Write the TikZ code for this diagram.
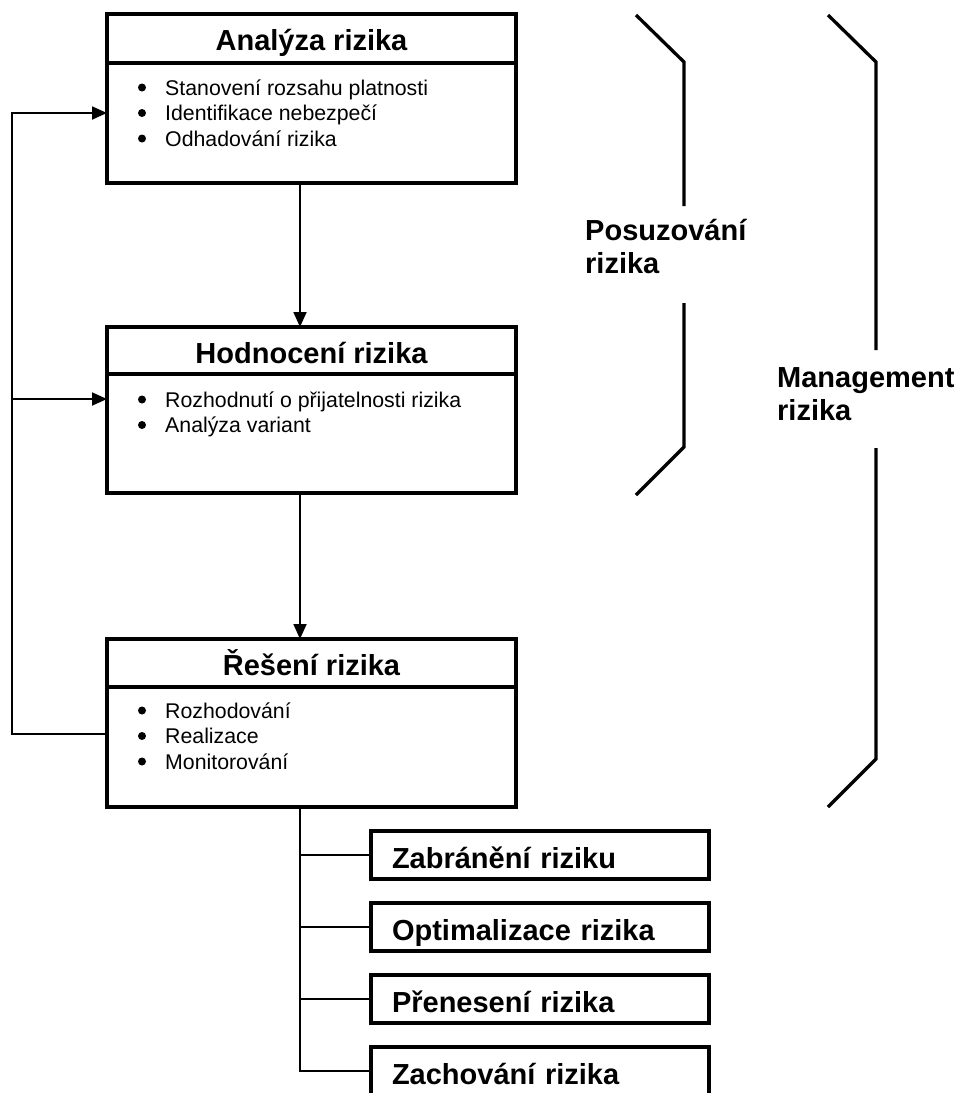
\documentclass[tikz,border=0pt]{standalone}
\usepackage{fontspec}
\setmainfont{Liberation Sans}
\usepackage{tikz}
\usetikzlibrary{calc, positioning, arrows, arrows.meta}

\begin{document}
\begin{tikzpicture}[x=1pt, y=-1pt, >={Triangle[length=15pt, width=13pt]}, line join=miter]
	\tikzstyle{velky}=[rectangle, draw, line width=3.3pt, minimum width=409pt, inner sep=0pt, outer sep=0pt]
	\tikzstyle{maly}=[rectangle, draw, line width=3.3pt, minimum width=338pt, minimum height=48pt, outer sep=0pt, text width=296pt, inner xsep=21pt, inner ysep=0pt, text height=26pt, text depth=0pt, align=left, font=\fontsize{29}{33}\selectfont\bfseries]
	\tikzstyle{nadpis}=[anchor=base, inner sep=0pt, font=\fontsize{29}{33}\selectfont\bfseries]
	\tikzstyle{polozka}=[anchor=base west, inner sep=0pt, font=\fontsize{21.3}{25.5}\selectfont]
	\tikzstyle{tecka}=[circle, fill, inner sep=0pt, minimum size=8pt]
	\tikzstyle{popis}=[anchor=west, inner sep=0pt, align=left, font=\fontsize{29}{33}\selectfont\bfseries]
	\tikzstyle{spoj}=[line width=1.8pt]
	\tikzstyle{zavorka}=[line width=3.3pt]

	\useasboundingbox (0,0) rectangle (957,1093);

	% hlavni bloky
	\node[velky, minimum height=169pt] (analyza) at (311.5,98.5) {};
	\node[velky, minimum height=166pt] (hodnoceni) at (311.5,410) {};
	\node[velky, minimum height=168pt] (reseni) at (311.5,723) {};

	\node[nadpis] (analyza-n) at ([yshift=-36pt]analyza.north) {Analýza rizika};
	\node[nadpis] (hodnoceni-n) at ([yshift=-36pt]hodnoceni.north) {Hodnocení rizika};
	\node[nadpis] (reseni-n) at ([yshift=-36pt]reseni.north) {Řešení rizika};

	\foreach \b/\h in {analyza/49, hodnoceni/47, reseni/48}
		\draw[zavorka] ([yshift=-\h pt]\b.north west) -- ([yshift=-\h pt]\b.north east);

	\foreach \t [count=\i] in {Stanovení rozsahu platnosti, Identifikace nebezpečí, Odhadování rizika} {
		\node[tecka] (analyza-b\i) at ([xshift=35pt, yshift={-73.5pt-25.5pt*(\i-1)}]analyza.north west) {};
		\node[polozka] (analyza-t\i) at ([xshift=58pt, yshift={-81pt-25.5pt*(\i-1)}]analyza.north west) {\t};
	}
	\foreach \t [count=\i] in {Rozhodnutí o přijatelnosti rizika, Analýza variant} {
		\node[tecka] (hodnoceni-b\i) at ([xshift=35pt, yshift={-72.5pt-25.5pt*(\i-1)}]hodnoceni.north west) {};
		\node[polozka] (hodnoceni-t\i) at ([xshift=58pt, yshift={-80pt-25.5pt*(\i-1)}]hodnoceni.north west) {\t};
	}
	\foreach \t [count=\i] in {Rozhodování, Realizace, Monitorování} {
		\node[tecka] (reseni-b\i) at ([xshift=35pt, yshift={-71.5pt-25.5pt*(\i-1)}]reseni.north west) {};
		\node[polozka] (reseni-t\i) at ([xshift=58pt, yshift={-79pt-25.5pt*(\i-1)}]reseni.north west) {\t};
	}

	% moznosti reseni
	\node[maly] (zabraneni) at (540,855) {Zabránění riziku};
	\node[maly, below=24pt of zabraneni] (optimalizace) {Optimalizace rizika};
	\node[maly, below=24pt of optimalizace] (preneseni) {Přenesení rizika};
	\node[maly, below=24pt of preneseni] (zachovani) {Zachování rizika};

	% spoje
	\draw[spoj, ->] ([xshift=-11.5pt]analyza.south) -- ([xshift=-11.5pt]hodnoceni.north);
	\draw[spoj, ->] ([xshift=-11.5pt]hodnoceni.south) -- ([xshift=-11.5pt]reseni.north);
	\coordinate (zpet) at ([xshift=-95pt, yshift=-95pt]reseni.north west);
	\coordinate (hodnoceni-vstup) at ([yshift=-72pt]hodnoceni.north west);
	\draw[spoj, ->] ([yshift=-95pt]reseni.north west) -- (zpet) |- ([yshift=-99pt]analyza.north west);
	\draw[spoj, ->] (zpet |- hodnoceni-vstup) -- (hodnoceni-vstup);
	\foreach \m in {zabraneni, optimalizace, preneseni, zachovani}
		\draw[spoj] ([xshift=-11.5pt]reseni.south) |- (\m.west);

	% zavorky
	\node[popis] (posuzovani) at (585,247) {Posuzování\\rizika};
	\node[popis] (management) at (777,394.5) {Management\\rizika};
	\draw[zavorka] (636,15) -- (684,62) -- (684,206);
	\draw[zavorka] (684,303) -- (684,447) -- (636,495);
	\draw[zavorka] (828,15) -- (876,62) -- (876,350);
	\draw[zavorka] (876,448) -- (876,759) -- (828,807);
\end{tikzpicture}
\end{document}
